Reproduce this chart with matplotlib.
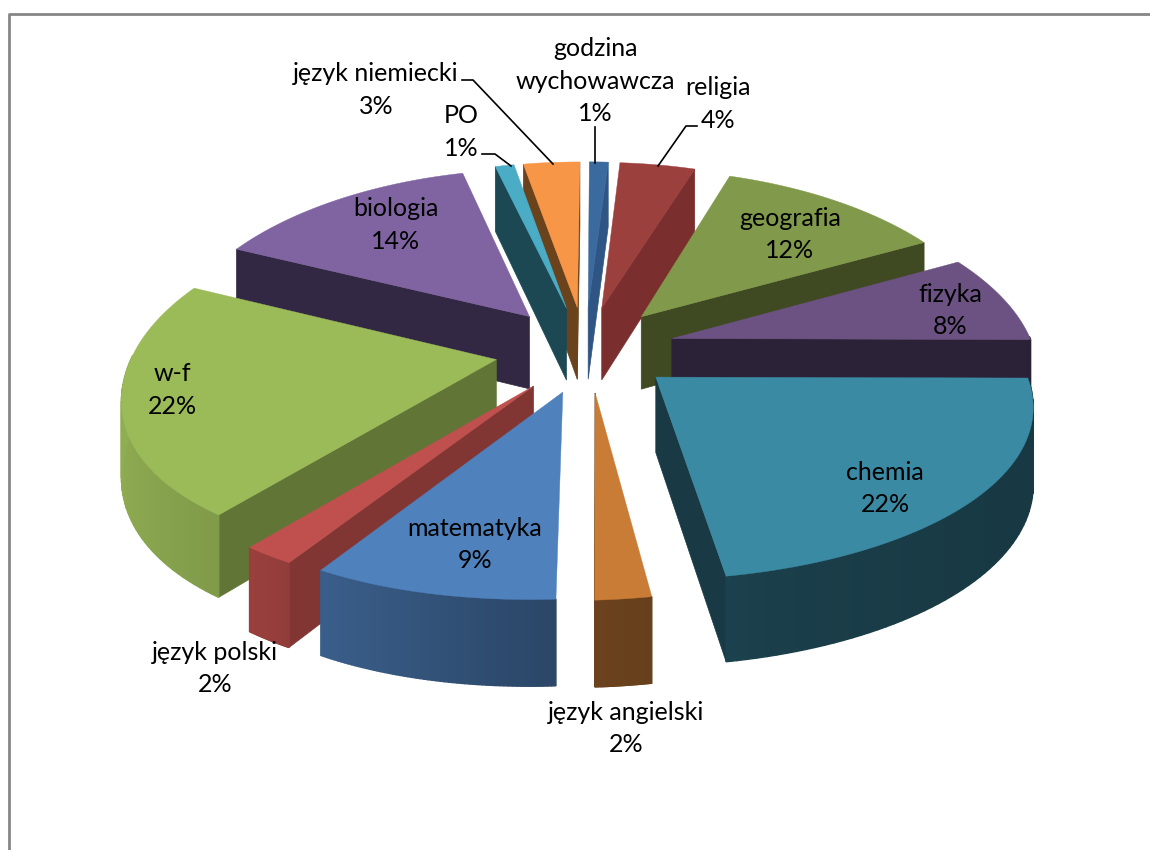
import numpy as np
import matplotlib
matplotlib.use("Agg")
import matplotlib.pyplot as plt
from matplotlib.patches import Polygon

subjects = ["godzina\nwychowawcza", "religia", "geografia", "fizyka", "chemia", "język angielski",
            "matematyka", "język polski", "w-f", "biologia", "PO", "język niemiecki"]
values = [1, 4, 12, 8, 22, 2, 9, 2, 22, 14, 1, 3]

top_colors = ["#3B6A9E", "#9C403E", "#81994A", "#6B5283", "#3A8AA4", "#C97C36",
              "#4F81BD", "#C0504D", "#9BBB59", "#8064A2", "#4BACC6", "#F79646"]
wall_colors = ["#2F5584", "#7A2F2E", "#3F4A22", "#2C2238", "#193A44", "#6A4019",
               "#3A5F8C", "#823634", "#617636", "#332843", "#1C4854", "#6A421C"]

# label centre positions in pixels
label_pos = [(595, 65), (718, 87), (790, 218), (950, 294), (885, 472), (626, 712),
             (475, 528), (215, 652), (172, 373), (396, 208), (461, 115), (376, 73)]
pct_pos = [(595, 113), (718, 120), (790, 250), (950, 327), (885, 504), (626, 744),
           (475, 560), (215, 684), (172, 406), (396, 241), (461, 148), (376, 106)]

# leader lines
leaders = [[(595, 127), (595, 163)],
           [(697, 126), (686, 126), (658, 166)],
           [(482, 154), (495, 154), (511, 166)],
           [(462, 80), (473, 80), (553, 164)]]

cx, cy = 585, 349
rx, ry = 377, 179
persp_x, persp_y = 0.17, 0.123
depth = 74
explode = 0.24
radius = 0.96
rotation = np.radians(0.3)
shear = 21


def project(u, v, drop=0.0):
    u, v = np.asarray(u), np.asarray(v)
    s = 1 / (1 + persp_y * v)
    # the front of the pie leans a little to the left
    lean = shear * np.minimum(v, 0) * np.abs(v)
    return cx + rx * u / (1 + persp_x * v) + lean, cy - ry * v * s + drop * s


fig = plt.figure(figsize=(11.5, 8.5), dpi=100)
ax = fig.add_axes([0, 0, 1, 1])
ax.set_xlim(0, 1150)
ax.set_ylim(850, 0)
ax.axis("off")
plt.rcParams["font.family"] = ["Lato", "DejaVu Sans"]

# chart frame, cut off by the image on the right and bottom
ax.plot([9, 9, 1150], [850, 14, 14], color="#868686", lw=2)

edges = rotation + np.cumsum([0] + values) / sum(values) * 2 * np.pi
mids = (edges[:-1] + edges[1:]) / 2
order = list(np.argsort(-np.cos(mids)))

# back slices first, front slices paint over them
for i in order:
    t = np.linspace(edges[i], edges[i + 1], 60)
    off_u, off_v = explode * np.sin(mids[i]), explode * np.cos(mids[i])
    u = off_u + radius * np.sin(t)
    v = off_v + radius * np.cos(t)
    x, y = project(u, v)
    xb, yb = project(u, v, depth)
    x0, y0 = project(off_u, off_v)
    x0b, y0b = project(off_u, off_v, depth)
    zo = 10 + 3 * order.index(i)

    # flat sides running from the centre to the rim, only those facing the viewer
    for k, visible in ((0, np.sin(t[0]) < 0), (-1, np.sin(t[-1]) > 0)):
        if visible:
            ax.add_patch(Polygon([(x0, y0), (x[k], y[k]), (xb[k], yb[k]), (x0b, y0b)],
                                 fc=wall_colors[i], ec=wall_colors[i], lw=0.5, zorder=zo))
    # curved outer side, shaded from left to right
    for k in range(len(t) - 1):
        if np.cos(t[k]) > 0.02:
            continue
        f = np.interp(u[k], [-1.2, -0.7, -0.05, 0.5, 1.2], [0.93, 0.8, 0.56, 0.45, 0.4])
        rgb = np.array(matplotlib.colors.to_rgb(top_colors[i])) * f
        ax.add_patch(Polygon([(x[k], y[k]), (x[k + 1], y[k + 1]), (xb[k + 1], yb[k + 1]), (xb[k], yb[k])],
                             fc=rgb, ec=rgb, lw=1.0, zorder=zo + 1))
    ax.add_patch(Polygon(np.column_stack([np.r_[x0, x], np.r_[y0, y]]),
                         fc=top_colors[i], ec=top_colors[i], lw=0.3, zorder=zo + 2))

for pts in leaders:
    ax.plot(*zip(*pts), color="black", lw=1.2, zorder=60)

for name, val, lp, pp in zip(subjects, values, label_pos, pct_pos):
    ax.text(lp[0], lp[1], name, ha="center", va="center", fontsize=18, linespacing=1.5, zorder=70)
    ax.text(pp[0], pp[1], f"{val}%", ha="center", va="center", fontsize=18, zorder=70)

fig.savefig("out.png", dpi=100, facecolor="white")
